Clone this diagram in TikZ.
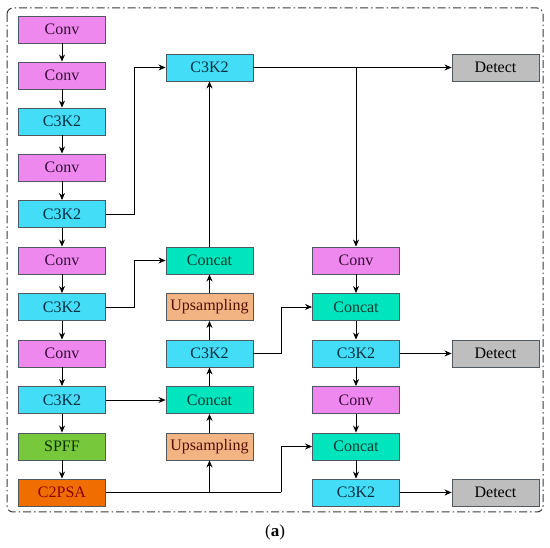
\documentclass[tikz,border=0pt]{standalone}
\usepackage{fontspec}
\setmainfont{Liberation Serif}
\usetikzlibrary{arrows.meta,calc}
\definecolor{convc}{HTML}{EE88EE}
\definecolor{c3kc}{HTML}{44DDF7}
\definecolor{catc}{HTML}{00E5BE}
\definecolor{upc}{HTML}{F2B482}
\definecolor{sppc}{HTML}{78C83C}
\definecolor{c2pc}{HTML}{F06E00}
\definecolor{detc}{HTML}{BEBEBE}
\definecolor{edgec}{HTML}{505860}
\definecolor{framec}{HTML}{3A3A3A}
\definecolor{convt}{HTML}{3A0A3A}
\definecolor{c3kt}{HTML}{0A2E40}
\definecolor{catt}{HTML}{0A3A30}
\definecolor{upt}{HTML}{501008}
\definecolor{sppt}{HTML}{0A300A}
\definecolor{c2pt}{HTML}{8A0000}
\tikzset{
  blk/.style={draw=edgec, line width=0.9pt, minimum width=87pt, minimum height=27pt, inner sep=0pt, font=\fontsize{16}{18}\selectfont},
  conv/.style={blk, fill=convc, text=convt},
  c3k/.style={blk, fill=c3kc, text=c3kt},
  cat/.style={blk, fill=catc, text=catt},
  ups/.style={blk, fill=upc, text=upt},
  spp/.style={blk, fill=sppc, text=sppt},
  c2p/.style={blk, fill=c2pc, text=c2pt},
  det/.style={blk, fill=detc, text=black},
  arr/.style={-{Stealth[length=7pt,width=6pt]}, line width=0.8pt, black},
  ln/.style={line width=0.8pt, black},
}
\begin{document}
\begin{tikzpicture}[x=1pt,y=-1pt]
\useasboundingbox (0,0) rectangle (550,548);
\draw[framec, line width=1pt, rounded corners=6pt, dash pattern=on 8pt off 3pt on 1.5pt off 3pt] (7,8) rectangle (543,512);
% left column
\node[conv] (L1) at (62,29.5) {Conv};
\node[conv] (L2) at (62,75.5) {Conv};
\node[c3k] (L3) at (62,121.5) {C3K2};
\node[conv] (L4) at (62,167.5) {Conv};
\node[c3k] (L5) at (62,214) {C3K2};
\node[conv] (L6) at (62,260.5) {Conv};
\node[c3k] (L7) at (62,307) {C3K2};
\node[conv] (L8) at (62,353.5) {Conv};
\node[c3k] (L9) at (62,400) {C3K2};
\node[spp] (L10) at (62,446.5) {SPFF};
\node[c2p] (L11) at (62,492.5) {C2PSA};
% middle column
\node[c3k] (M1) at (209.5,67.5) {C3K2};
\node[cat] (M2) at (209.5,260.5) {Concat};
\node[ups] (M3) at (209.5,307) {Upsampling};
\node[c3k] (M4) at (209.5,353.5) {C3K2};
\node[cat] (M5) at (209.5,400) {Concat};
\node[ups] (M6) at (209.5,446.5) {Upsampling};
% right column
\node[conv] (R1) at (356,260.5) {Conv};
\node[cat] (R2) at (356,307) {Concat};
\node[c3k] (R3) at (356,353.5) {C3K2};
\node[conv] (R4) at (356,400) {Conv};
\node[cat] (R5) at (356,446.5) {Concat};
\node[c3k] (R6) at (356,492.5) {C3K2};
% detect
\node[det] (D1) at (495.5,67.5) {Detect};
\node[det] (D2) at (495.5,353.5) {Detect};
\node[det] (D3) at (495.5,492.5) {Detect};
% column arrows
\foreach \a/\b in {L1/L2,L2/L3,L3/L4,L4/L5,L5/L6,L6/L7,L7/L8,L8/L9,L9/L10,L10/L11,R1/R2,R2/R3,R3/R4,R4/R5,R5/R6}
  \draw[arr] (\a.south) -- (\b.north);
% middle column upward arrows
\foreach \a/\b in {M2/M1,M3/M2,M4/M3,M5/M4,M6/M5}
  \draw[arr] (\a.north) -- (\b.south);
% cross links
\draw[arr] (L5.east) -- ++(28,0) |- (M1.west);
\draw[arr] (L7.east) -- ++(28,0) |- (M2.west);
\draw[arr] (L9.east) -- (M5.west);
\draw[arr] (M4.east) -- ++(28,0) |- (R2.west);
\draw[ln] (L11.east) -- ++(175.5,0) coordinate (k1);
\draw[arr] (k1) |- (R5.west);
\draw[arr] (M6.south |- L11.east) -- (M6.south);
\draw[arr] (M1.east) -- (D1.west);
\draw[arr] (R1.north |- M1.east) -- (R1.north);
\draw[arr] (R3.east) -- (D2.west);
\draw[arr] (R6.east) -- (D3.west);
\node[font=\fontsize{17}{19}\selectfont] (lab) at (275,532) {(\textbf{a})};
\end{tikzpicture}
\end{document}
